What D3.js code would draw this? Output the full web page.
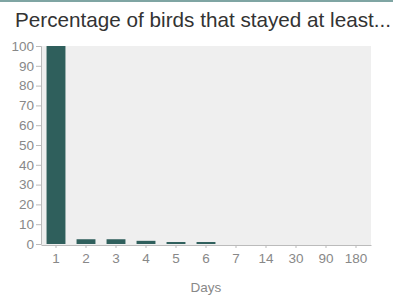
<!DOCTYPE html>
<html><head><meta charset="utf-8">
<script src="https://cdn.jsdelivr.net/npm/d3@7"></script>
<style>body{margin:0;background:#fff;}svg{display:block;font-family:"Liberation Sans",Arial,sans-serif;}</style>
</head><body>
<svg id="c" width="393" height="296"></svg>
<script>
const categories = ["1","2","3","4","5","6","7","14","30","90","180"];
const values = [100, 2.4, 2.4, 1.6, 1.0, 1.0, 0, 0, 0, 0, 0];
const yTicks = [0,10,20,30,40,50,60,70,80,90,100];
const title = "Percentage of birds that stayed at least...";
const xLabel = "Days";

const svg = d3.select("#c");
const m = {l:41, r:371, t:46, b:245};
svg.append("rect").attr("x",0).attr("y",0).attr("width",393).attr("height",2).attr("fill","#7fa5a3");
svg.append("text").attr("x",15).attr("y",27).attr("font-size",20.7).attr("fill","#333").text(title);

const x = d3.scaleBand().domain(categories).range([m.l, m.r]).paddingInner(0.37).paddingOuter(0.185);
const y = d3.scaleLinear().domain([0,100]).range([m.b-1, m.t]);

svg.append("rect").attr("x",m.l).attr("y",m.t).attr("width",m.r-m.l).attr("height",m.b-m.t).attr("fill","#efefef");

svg.selectAll("rect.bar").data(values).join("rect").attr("class","bar")
  .attr("x",(d,i)=>x(categories[i])).attr("width",x.bandwidth())
  .attr("y",d=>y(d)).attr("height",d=>y(0)-y(d)).attr("fill","#2f5f5c");

const ya = svg.append("g").attr("transform",`translate(${m.l},0)`)
  .call(d3.axisLeft(y).tickValues(yTicks).tickSize(5).tickPadding(2));
ya.select(".domain").attr("stroke","#bbb");
ya.selectAll(".tick line").attr("stroke","#bbb");
ya.selectAll("text").attr("fill","#888").attr("font-size",13.5).style("font-family","Liberation Sans, Arial, sans-serif");

const xa = svg.append("g").attr("transform",`translate(0,${m.b})`)
  .call(d3.axisBottom(x).tickSize(3).tickPadding(5).tickSizeOuter(0));
xa.select(".domain").attr("stroke","#bbb");
xa.selectAll(".tick line").attr("stroke","#bbb");
xa.selectAll("text").attr("fill","#888").attr("font-size",13.5).style("font-family","Liberation Sans, Arial, sans-serif");

svg.append("text").attr("x",(m.l+m.r)/2).attr("y",292).attr("text-anchor","middle")
  .attr("font-size",13.5).attr("fill","#888").text(xLabel);
</script>
</body></html>
